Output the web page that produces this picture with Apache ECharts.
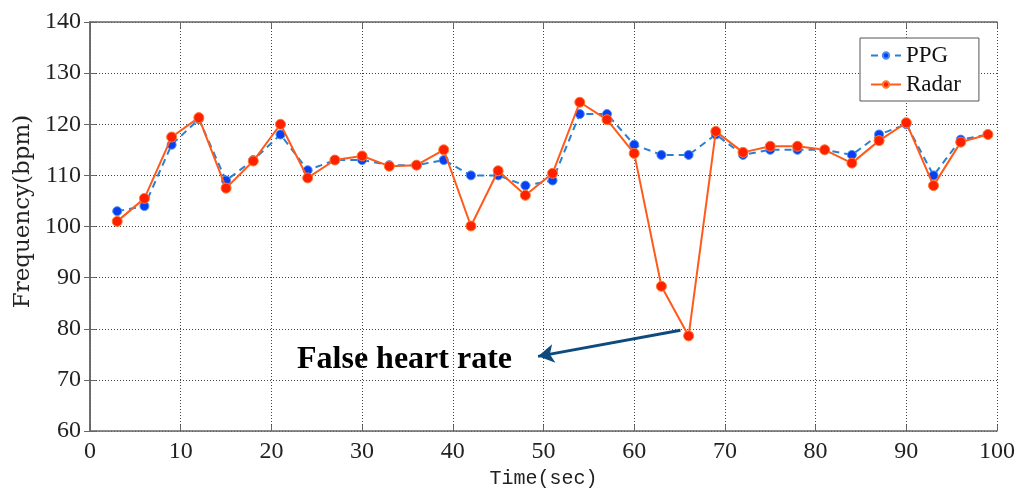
<!DOCTYPE html>
<html><head><meta charset="utf-8">
<script src="https://cdn.jsdelivr.net/npm/echarts@6/dist/echarts.min.js"></script>
<style>html,body{margin:0;padding:0;background:#fff}#c{width:1027px;height:491px}</style>
</head><body><div id="c"></div>
<script>
const times = [3,6,9,12,15,18,21,24,27,30,33,36,39,42,45,48,51,54,57,60,63,66,69,72,75,78,81,84,87,90,93,96,99];
const ppg   = [103,104,116,121,109,113,118,111,113,113,112,112,113,110,110,108,109,122,122,116,114,114,118,114,115,115,115,114,118,120,110,117,118];
const radar = [101,105.5,117.5,121.3,107.5,112.8,120,109.5,113,113.8,111.8,112,115,100.1,110.9,106.1,110.4,124.3,120.9,114.3,88.3,78.6,118.6,114.5,115.7,115.7,115,112.4,116.8,120.3,108,116.5,118];
const xTicks = [0,10,20,30,40,50,60,70,80,90,100];
const yTicks = [60,70,80,90,100,110,120,130,140];
const annotation = {text:'False heart rate', from:[65.1,79.7], to:[49.4,74.6]};

const serif = '"Liberation Serif","DejaVu Serif",serif';
const chart = echarts.init(document.getElementById('c'));
const gridLine = {show:true, lineStyle:{color:'#444', type:[1,2], width:1}};
chart.setOption({
  animation:false,
  grid:{left:90, right:30, top:22, bottom:60, containLabel:false, outerBoundsMode:'none'},
  legend:{
    orient:'vertical', left:860, top:38, padding:[6,18,5,10],
    borderColor:'#555', borderWidth:1, backgroundColor:'#fff',
    itemWidth:30, itemHeight:8, itemGap:6,
    textStyle:{fontFamily:serif, fontSize:23, color:'#111'},
    data:['PPG','Radar']
  },
  xAxis:[{
    type:'value', min:xTicks[0], max:xTicks[xTicks.length-1], interval:10,
    name:'Time(sec)', nameLocation:'middle', nameGap:38,
    nameTextStyle:{fontFamily:'"Liberation Mono","DejaVu Sans Mono",monospace', fontSize:20, color:'#222'},
    axisLine:{onZero:false, lineStyle:{color:'#666', width:1.5}},
    axisTick:{inside:true, length:6, lineStyle:{color:'#666'}},
    axisLabel:{fontFamily:serif, fontSize:24, color:'#222', margin:9},
    splitLine:gridLine
  },{
    type:'value', position:'top', min:0, max:100, interval:10,
    axisLine:{show:true, lineStyle:{color:'#666', width:1.5}},
    axisTick:{inside:true, length:6, lineStyle:{color:'#666'}},
    axisLabel:{show:false}, splitLine:{show:false}
  }],
  yAxis:[{
    type:'value', min:yTicks[0], max:yTicks[yTicks.length-1], interval:10,
    name:'Frequency(bpm)', nameLocation:'middle', nameGap:50,
    nameTextStyle:{fontFamily:'"DejaVu Serif",serif', fontSize:23, color:'#222', padding:[0,0,0,30]},
    axisLine:{show:true, lineStyle:{color:'#666', width:1.5}},
    axisTick:{show:true, inside:true, length:6, lineStyle:{color:'#666'}},
    axisLabel:{fontFamily:serif, fontSize:24, color:'#222', margin:9},
    splitLine:gridLine
  },{
    type:'value', position:'right', min:60, max:140, interval:10,
    axisLine:{show:true, lineStyle:{color:'#666', width:1.5}},
    axisTick:{show:true, inside:true, length:6, lineStyle:{color:'#666'}},
    axisLabel:{show:false}, splitLine:{show:false}
  }],
  series:[{
    name:'PPG', type:'line', data:times.map((t,i)=>[t,ppg[i]]),
    symbol:'circle', symbolSize:9, z:2,
    lineStyle:{color:'#2a80d0', width:2, type:[7,5]},
    itemStyle:{color:'#0a3ff0', borderColor:'#4a8ef0', borderWidth:1}
  },{
    name:'Radar', type:'line', data:times.map((t,i)=>[t,radar[i]]),
    symbol:'circle', symbolSize:10, z:3,
    lineStyle:{color:'#ff5a1a', width:2},
    itemStyle:{color:'#ff2000', borderColor:'#ff7a30', borderWidth:1},
    markLine:{
      silent:true, animation:false,
      symbol:['none','arrow'], symbolSize:[14,16],
      lineStyle:{color:'#0d4a7e', width:3, type:'solid'},
      label:{show:false},
      data:[[{coord:annotation.from},{coord:annotation.to}]]
    }
  }],
  graphic:[{
    type:'text', left:297, top:344,
    style:{text:annotation.text, fontFamily:serif, fontWeight:'bold', fontSize:32, fill:'#000'}
  }]
});
</script></body></html>
